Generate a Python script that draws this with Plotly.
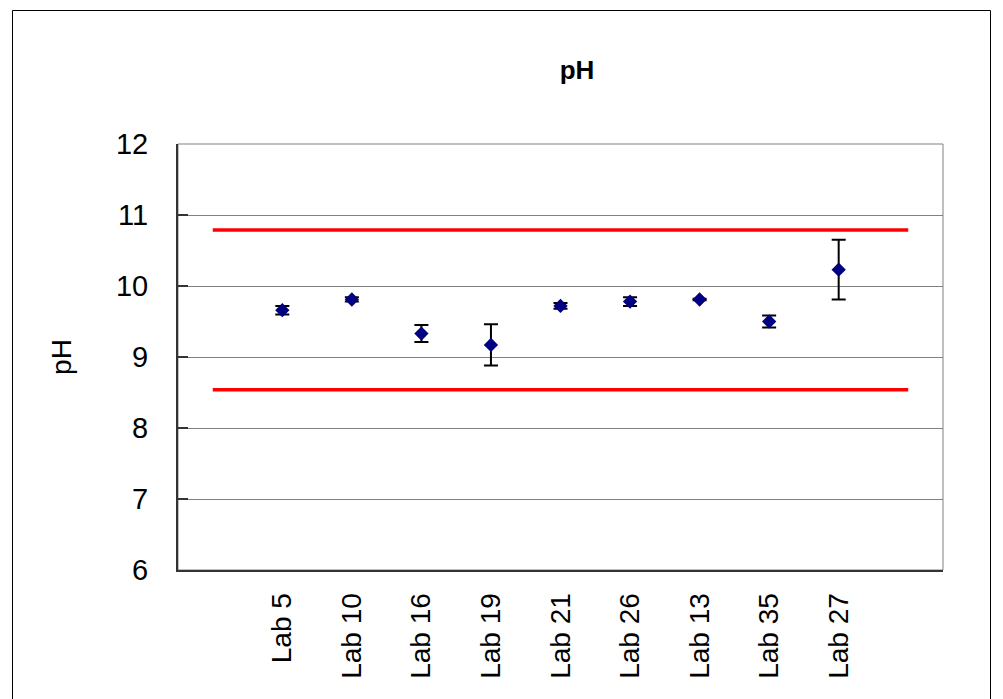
import plotly.graph_objects as go

# pH results per laboratory (mean and standard deviation)
labs = ["Lab 5", "Lab 10", "Lab 16", "Lab 19", "Lab 21", "Lab 26", "Lab 13", "Lab 35", "Lab 27"]
ph_mean = [9.66, 9.81, 9.33, 9.17, 9.72, 9.78, 9.81, 9.50, 10.23]
ph_sd = [0.06, 0.03, 0.12, 0.29, 0.04, 0.06, 0.01, 0.085, 0.42]

# acceptance limits
upper_limit = 10.79
lower_limit = 8.54

y_ticks = [6, 7, 8, 9, 10, 11, 12]

FONT = "Liberation Sans, Arial, sans-serif"

# category slots: one empty slot on each side of the labs
positions = list(range(1, len(labs) + 1))
span = [0, len(labs) + 1]

W, H = 1003, 699
L, R, T, B = 178, 60, 144, 129
pw, ph = W - L - R, H - T - B


def px_to_paper(x, y):
    return (x - L) / pw, (H - B - y) / ph


fig = go.Figure()

for lim in (upper_limit, lower_limit):
    fig.add_trace(go.Scatter(
        x=span, y=[lim, lim], mode="lines",
        line=dict(color="#ff0000", width=3.5),
        hoverinfo="skip", showlegend=False,
    ))

fig.add_trace(go.Scatter(
    x=positions, y=ph_mean, mode="markers",
    marker=dict(symbol="diamond", size=11, color="#000080"),
    error_y=dict(type="data", array=ph_sd, visible=True,
                 color="#000000", thickness=2, width=7),
    showlegend=False,
))

# plot-area frame (grey top/right) and outer chart border
fig.add_shape(type="rect", xref="paper", yref="paper",
              x0=0, x1=1, y0=0, y1=1,
              line=dict(color="#808080", width=1), layer="below")
bx0, by0 = px_to_paper(12.5, 10.5)
bx1, by1 = px_to_paper(990.5, 720)
fig.add_shape(type="rect", xref="paper", yref="paper",
              x0=bx0, x1=bx1, y0=by1, y1=by0,
              line=dict(color="#000000", width=1))

fig.update_layout(
    width=W, height=H,
    margin=dict(l=L, r=R, t=T, b=B),
    paper_bgcolor="white", plot_bgcolor="white",
    font=dict(family=FONT, color="#000000"),
    title=dict(text="<b>pH</b>", x=577 / W, xanchor="center",
               y=1 - 70 / H, yanchor="middle",
               font=dict(size=26, family=FONT, color="#000000")),
    showlegend=False,
)

fig.update_xaxes(
    range=[-0.5, len(labs) + 1.5],
    tickvals=positions, ticktext=labs, tickangle=-90,
    tickfont=dict(size=28, family=FONT, color="#000000"),
    ticklabelstandoff=10,
    showgrid=False, zeroline=False,
    showline=True, linecolor="#333333", linewidth=2,
    ticks="",
)

fig.update_yaxes(
    range=[6, 12], tickvals=y_ticks,
    tickfont=dict(size=29, family=FONT, color="#000000"),
    ticks="inside", ticklen=10, tickcolor="#333333", tickwidth=2,
    ticklabelstandoff=22,
    showgrid=True, gridcolor="#808080", gridwidth=1,
    zeroline=False,
    showline=True, linecolor="#333333", linewidth=2,
    title=dict(text="pH", standoff=36,
               font=dict(size=28, family=FONT, color="#000000")),
)

fig.write_html("out.html")
